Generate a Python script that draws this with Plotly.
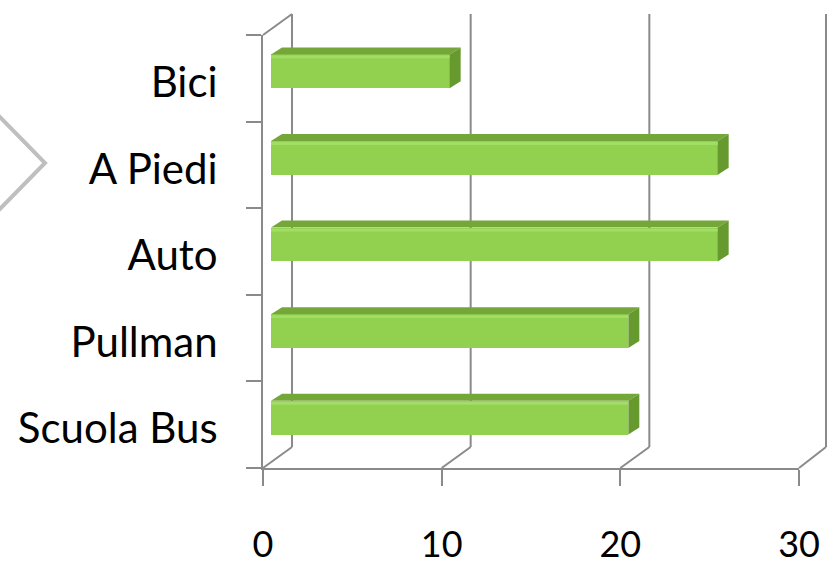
import plotly.graph_objects as go

# Mode of transport, listed bottom to top
categories = ["Scuola Bus", "Pullman", "Auto", "A Piedi", "Bici"]
values = [20, 20, 25, 25, 10]
x_ticks = [0, 10, 20, 30]

W, H = 827, 570
GRAY = "#8A8A8A"
FONT = "Lato"

# front plane of the 3-D box, in pixels
X0, X30 = 263, 799
YT, YB = 35, 468
SX = (X30 - X0) / 30.0
SY = (YB - YT) / len(categories)
WALL_DX, WALL_DY = 29, 21      # depth of the back wall
BAR_DX, BAR_DY = 8, 7          # bars sit a little inside the box
CAP_DX, CAP_DY = 11, 7         # thickness of each bar
HALF = 0.195                   # half bar height, in category units
LABEL_DROP = 0.045             # category labels sit slightly below centre


def fx(px):
    return px / W


def fy(py):
    return 1 - py / H


def line(x0, y0, x1, y1, color=GRAY, width=2, layer="below"):
    return dict(type="line", xref="paper", yref="paper",
                x0=fx(x0), y0=fy(y0), x1=fx(x1), y1=fy(y1),
                line=dict(color=color, width=width), layer=layer)


shapes = []
# back wall gridlines and the floor edges joining them to the front axis
for t in x_ticks:
    xf = X0 + t * SX
    xb = min(xf + WALL_DX, W - 1)
    shapes.append(line(xb, YT - WALL_DY, xb, YB - WALL_DY))
    shapes.append(line(xf, YB, xb, YB - WALL_DY))
# side wall top edge
shapes.append(line(X0, YT, X0 + WALL_DX, YT - WALL_DY))

# bar top faces and end caps, built from the values on the bar axes
dxu = CAP_DX / SX
dyu = CAP_DY / SY
for i, v in enumerate(values):
    top = (f"M 0,{i + HALF} L {v},{i + HALF} L {v + dxu},{i + HALF + dyu} "
           f"L {dxu},{i + HALF + dyu} Z")
    end = (f"M {v},{i - HALF} L {v},{i + HALF} L {v + dxu},{i + HALF + dyu} "
           f"L {v + dxu},{i - HALF + dyu} Z")
    shapes.append(dict(type="path", xref="x2", yref="y2", path=top,
                       fillcolor="#74A63A", line=dict(width=0)))
    shapes.append(dict(type="path", xref="x2", yref="y2", path=end,
                       fillcolor="#679A2E", line=dict(width=0)))
    # light highlight along the top of the front face
    shapes.append(dict(type="rect", xref="x2", yref="y2",
                       x0=0, x1=v, y0=i + HALF - 0.045, y1=i + HALF - 0.012,
                       fillcolor="#A2DD66", line=dict(width=0)))

# decorative chevron on the left edge
chev = (f"M {fx(-2)},{fy(115)} L {fx(45)},{fy(163)} L {fx(-2)},{fy(211)}")
shapes.append(dict(type="path", xref="paper", yref="paper", path=chev,
                   line=dict(color="#BFBFBF", width=4)))

fig = go.Figure()
fig.add_trace(go.Scatter(x=[None], y=[None], showlegend=False,
                         hoverinfo="skip"))
fig.add_trace(go.Bar(
    x=values, y=list(range(len(categories))), orientation="h",
    width=2 * HALF, marker=dict(color="#92D050", line=dict(width=0)),
    xaxis="x2", yaxis="y2", showlegend=False, hoverinfo="x",
))

fig.update_layout(
    width=W, height=H,
    margin=dict(l=0, r=0, t=0, b=0),
    paper_bgcolor="white", plot_bgcolor="rgba(0,0,0,0)",
    shapes=shapes,
    xaxis=dict(
        domain=[fx(X0), fx(X30)], range=[0, 30],
        tickmode="array", tickvals=x_ticks,
        ticks="outside", ticklen=16, tickwidth=2, tickcolor=GRAY,
        showline=True, linecolor=GRAY, linewidth=2,
        showgrid=False, zeroline=False, automargin=False,
        ticklabelstandoff=28,
        tickfont=dict(family=FONT, size=36, color="black"),
    ),
    yaxis=dict(
        domain=[fy(YB), fy(YT)], range=[-0.5, len(categories) - 0.5],
        tickmode="array",
        tickvals=[k - LABEL_DROP for k in range(len(categories))],
        ticktext=categories, ticks="",
        minor=dict(tickmode="array",
                   tickvals=[k - 0.5 for k in range(len(categories) + 1)],
                   ticks="outside", ticklen=15, tickwidth=2,
                   tickcolor=GRAY, showgrid=False),
        showline=True, linecolor=GRAY, linewidth=2,
        showgrid=False, zeroline=False, automargin=False,
        ticklabelstandoff=35,
        tickfont=dict(family=FONT, size=42, color="black"),
    ),
    xaxis2=dict(overlaying="x", range=[-BAR_DX / SX, 30 - BAR_DX / SX],
                visible=False),
    yaxis2=dict(overlaying="y",
                range=[-0.5 - BAR_DY / SY, len(categories) - 0.5 - BAR_DY / SY],
                visible=False),
    bargap=0,
)

fig.write_html("out.html")
